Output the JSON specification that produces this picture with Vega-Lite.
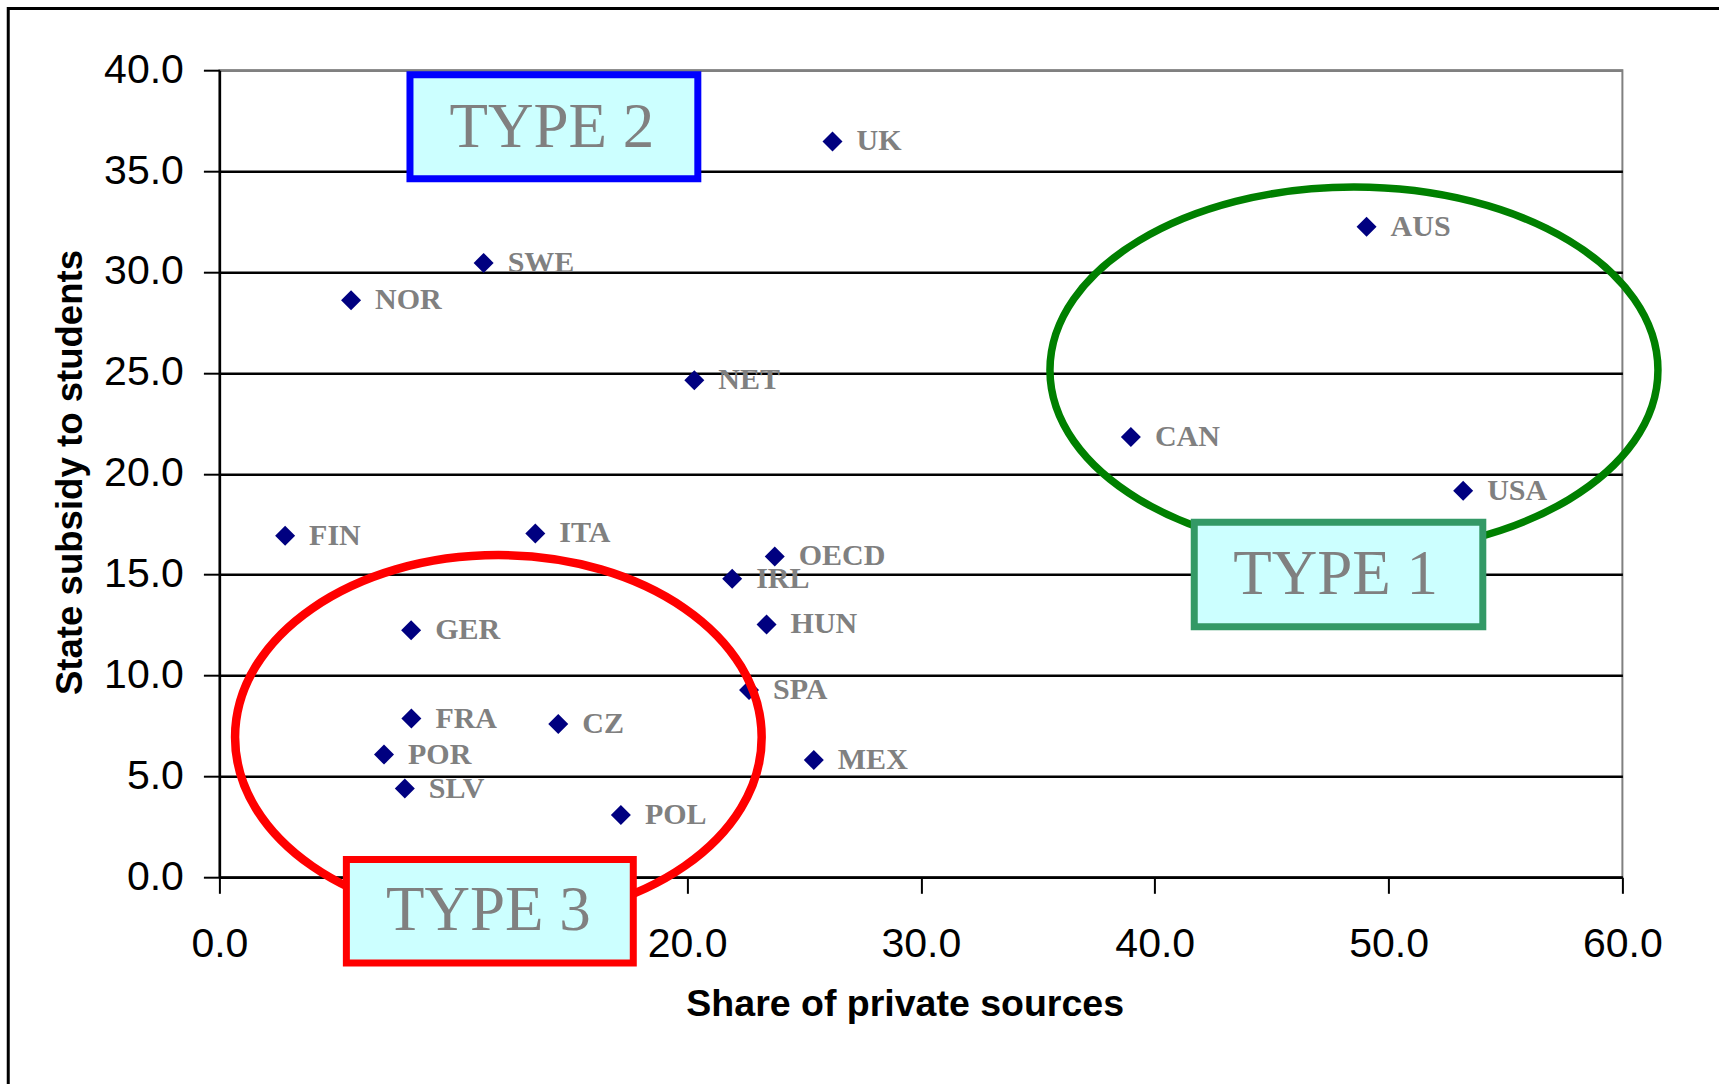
{
  "$schema": "https://vega.github.io/schema/vega-lite/v6.json",
  "width": 1403,
  "height": 807.1,
  "autosize": {"type": "none"},
  "padding": {"left": 219.4, "top": 70.2, "right": 96.6, "bottom": 206.7},
  "background": "white",
  "datasets": {
    "countries": [
      {"country": "UK", "private": 26.22, "subsidy": 36.47},
      {"country": "AUS", "private": 49.06, "subsidy": 32.24},
      {"country": "SWE", "private": 11.3, "subsidy": 30.45},
      {"country": "NOR", "private": 5.63, "subsidy": 28.6},
      {"country": "NET", "private": 20.31, "subsidy": 24.64},
      {"country": "CAN", "private": 38.98, "subsidy": 21.82},
      {"country": "USA", "private": 53.19, "subsidy": 19.16},
      {"country": "FIN", "private": 2.81, "subsidy": 16.93},
      {"country": "ITA", "private": 13.51, "subsidy": 17.04},
      {"country": "OECD", "private": 23.75, "subsidy": 15.9},
      {"country": "IRL", "private": 21.93, "subsidy": 14.8},
      {"country": "GER", "private": 8.2, "subsidy": 12.25},
      {"country": "HUN", "private": 23.4, "subsidy": 12.53},
      {"country": "SPA", "private": 22.65, "subsidy": 9.28},
      {"country": "FRA", "private": 8.21, "subsidy": 7.87},
      {"country": "CZ", "private": 14.49, "subsidy": 7.6},
      {"country": "POR", "private": 7.04, "subsidy": 6.08},
      {"country": "SLV", "private": 7.93, "subsidy": 4.4},
      {"country": "MEX", "private": 25.42, "subsidy": 5.81},
      {"country": "POL", "private": 17.17, "subsidy": 3.09}
    ],
    "frame": [{"x": -9.03, "x2": 70, "y": 43.06, "y2": -15}],
    "ellipses": [
      {"group": "TYPE 1", "cx": 48.52, "cy": 25.14},
      {"group": "TYPE 3", "cx": 11.93, "cy": 6.94}
    ],
    "boxes": [
      {"label": "TYPE 2", "x": 8.15, "x2": 20.46, "y": 39.78, "y2": 34.62, "tx": 14.22, "ty": 36.2},
      {"label": "TYPE 1", "x": 41.69, "x2": 54.03, "y": 17.6, "y2": 12.42, "tx": 47.74, "ty": 14.02},
      {"label": "TYPE 3", "x": 5.43, "x2": 17.7, "y": 0.887, "y2": -4.25, "tx": 11.5, "ty": -2.61}
    ]
  },
  "layer": [
    {
      "data": {"name": "countries"},
      "mark": {"type": "point", "shape": "diamond", "filled": true, "size": 400, "color": "#000080", "opacity": 1},
      "encoding": {
        "x": {
          "field": "private",
          "type": "quantitative",
          "scale": {"domain": [0, 60], "nice": false, "zero": false},
          "axis": {
            "title": "Share of private sources",
            "values": [0, 10, 20, 30, 40, 50, 60],
            "format": ".1f",
            "grid": false,
            "labelFlush": false,
            "labelOverlap": false,
            "labelPadding": 31,
            "titleX": 685.3,
            "titleY": 138.3,
            "titleAlign": "center",
            "titleBaseline": "alphabetic",
            "titleFontSize": 37.5
          }
        },
        "y": {
          "field": "subsidy",
          "type": "quantitative",
          "scale": {"domain": [0, 40], "nice": false, "zero": false},
          "axis": {
            "title": "State subsidy to students",
            "values": [0, 5, 10, 15, 20, 25, 30, 35, 40],
            "format": ".1f",
            "grid": true,
            "gridColor": {"condition": {"test": "datum.value >= 40", "value": "#808080"}, "value": "#000000"},
            "gridWidth": 2.5,
            "labelPadding": 20,
            "labelOverlap": false,
            "titleAngle": 270,
            "titleX": -138.4,
            "titleY": 401.8,
            "titleAlign": "center",
            "titleBaseline": "alphabetic",
            "titleFontSize": 36.6
          }
        }
      }
    },
    {
      "data": {"name": "countries"},
      "mark": {"type": "text", "align": "left", "baseline": "middle", "dx": 24, "font": "Liberation Serif", "fontWeight": "bold", "fontSize": 30, "color": "#808080"},
      "encoding": {
        "x": {"field": "private", "type": "quantitative"},
        "y": {"field": "subsidy", "type": "quantitative"},
        "text": {"field": "country"}
      }
    },
    {
      "data": {"name": "frame"},
      "mark": {"type": "rect", "filled": false, "stroke": "#000000", "strokeWidth": 3},
      "encoding": {
        "x": {"field": "x", "type": "quantitative"},
        "x2": {"field": "x2"},
        "y": {"field": "y", "type": "quantitative"},
        "y2": {"field": "y2"}
      }
    },
    {
      "data": {"name": "ellipses"},
      "transform": [{"filter": "datum.group == 'TYPE 1'"}],
      "mark": {
        "type": "point",
        "shape": "M1,0C1,0.3325,0.5523,0.602,0,0.602C-0.5523,0.602,-1,0.3325,-1,0C-1,-0.3325,-0.5523,-0.602,0,-0.602C0.5523,-0.602,1,-0.3325,1,0Z",
        "size": 369664,
        "filled": false,
        "stroke": "#008000",
        "strokeWidth": 7.5,
        "opacity": 1
      },
      "encoding": {
        "x": {"field": "cx", "type": "quantitative"},
        "y": {"field": "cy", "type": "quantitative"}
      }
    },
    {
      "data": {"name": "ellipses"},
      "transform": [{"filter": "datum.group == 'TYPE 3'"}],
      "mark": {
        "type": "point",
        "shape": "M1,0C1,0.3824,0.5523,0.692,0,0.692C-0.5523,0.692,-1,0.3824,-1,0C-1,-0.3824,-0.5523,-0.692,0,-0.692C0.5523,-0.692,1,-0.3824,1,0Z",
        "size": 277308,
        "filled": false,
        "stroke": "#FF0000",
        "strokeWidth": 8.5,
        "opacity": 1
      },
      "encoding": {
        "x": {"field": "cx", "type": "quantitative"},
        "y": {"field": "cy", "type": "quantitative"}
      }
    },
    {
      "data": {"name": "boxes"},
      "mark": {"type": "rect", "fill": "#CCFFFF", "strokeWidth": 7},
      "encoding": {
        "x": {"field": "x", "type": "quantitative"},
        "x2": {"field": "x2"},
        "y": {"field": "y", "type": "quantitative"},
        "y2": {"field": "y2"},
        "stroke": {
          "field": "label",
          "type": "nominal",
          "scale": {"domain": ["TYPE 1", "TYPE 2", "TYPE 3"], "range": ["#339966", "#0000FF", "#FF0000"]},
          "legend": null
        }
      }
    },
    {
      "data": {"name": "boxes"},
      "mark": {"type": "text", "align": "center", "baseline": "alphabetic", "font": "Liberation Serif", "fontSize": 63, "color": "#808080"},
      "encoding": {
        "x": {"field": "tx", "type": "quantitative"},
        "y": {"field": "ty", "type": "quantitative"},
        "text": {"field": "label"}
      }
    }
  ],
  "config": {
    "view": {"stroke": "#808080", "strokeWidth": 2},
    "axis": {
      "domainColor": "#000000",
      "domainWidth": 2.5,
      "tickColor": "#000000",
      "tickWidth": 2,
      "tickSize": 16,
      "labelFont": "Liberation Sans",
      "labelFontSize": 41,
      "labelColor": "#000000",
      "titleFont": "Liberation Sans",
      "titleFontWeight": "bold",
      "titleColor": "#000000"
    }
  }
}
